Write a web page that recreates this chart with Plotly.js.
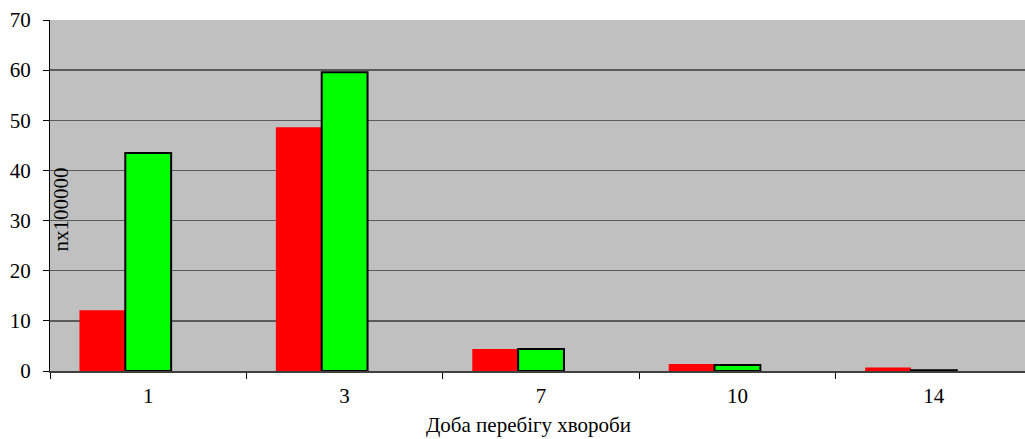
<!DOCTYPE html>
<html>
<head>
<meta charset="utf-8">
<script src="https://cdn.plot.ly/plotly-3.0.1.min.js"></script>
<style>html,body{margin:0;padding:0;background:#fff;}#chart{width:1025px;height:439px;}</style>
</head>
<body>
<div id="chart"></div>
<script>
const categories = ['1', '3', '7', '10', '14'];
const seriesRed = [12.1, 48.6, 4.4, 1.4, 0.7];
const seriesGreen = [43.5, 59.6, 4.4, 1.2, 0.15];
const seriesEmpty = [null, null, null, null, null];
const yTickVals = [0, 10, 20, 30, 40, 50, 60, 70];
const xTitle = 'Доба перебігу хвороби';
const yTitle = 'nx100000';

const font = "Liberation Serif";
const fs = 21;

const traces = [
  {type: 'bar', x: categories, y: seriesRed, marker: {color: '#FF0000', line: {width: 0}}, hoverinfo: 'y'},
  {type: 'bar', x: categories, y: seriesGreen, marker: {color: '#00FF00', line: {color: '#000000', width: 2}}, hoverinfo: 'y'},
  {type: 'bar', x: categories, y: seriesEmpty, marker: {color: '#0000FF'}, hoverinfo: 'skip'}
];

const layout = {
  width: 1025, height: 439,
  margin: {l: 49.5, r: 0, t: 20, b: 68},
  paper_bgcolor: '#FFFFFF',
  plot_bgcolor: '#C0C0C0',
  showlegend: false,
  barmode: 'group',
  bargap: 0.3,
  bargroupgap: 0,
  font: {family: font, size: fs, color: '#000000'},
  xaxis: {
    type: 'category',
    range: [-0.5, 4.464],
    tickson: 'boundaries',
    ticks: 'outside', ticklen: 6, tickcolor: '#000000', tickwidth: 1,
    ticklabelstandoff: 5,
    showgrid: false,
    showline: true, linecolor: '#404040', linewidth: 1.5,
    tickfont: {family: font, size: fs, color: '#000000'},
    fixedrange: true
  },
  yaxis: {
    range: [0, 70],
    tickvals: yTickVals,
    ticks: 'outside', ticklen: 6, tickcolor: '#000000', tickwidth: 1,
    ticklabelstandoff: 8,
    showgrid: true, gridcolor: '#5A5A5A', gridwidth: 1.5,
    zeroline: false,
    showline: true, linecolor: '#000000', linewidth: 1,
    tickfont: {family: font, size: fs, color: '#000000'},
    fixedrange: true
  },
  annotations: [{
    text: yTitle, xref: 'paper', yref: 'paper',
    x: 0.0108, y: 0.459, xanchor: 'center', yanchor: 'middle',
    textangle: -90, showarrow: false,
    font: {family: font, size: fs, color: '#000000'}
  }, {
    text: xTitle, xref: 'paper', yref: 'paper',
    x: 0.4905, y: -0.154, xanchor: 'center', yanchor: 'middle',
    showarrow: false,
    font: {family: font, size: fs, color: '#000000'}
  }]
};

Plotly.newPlot('chart', traces, layout, {displayModeBar: false, staticPlot: true});
</script>
</body>
</html>
